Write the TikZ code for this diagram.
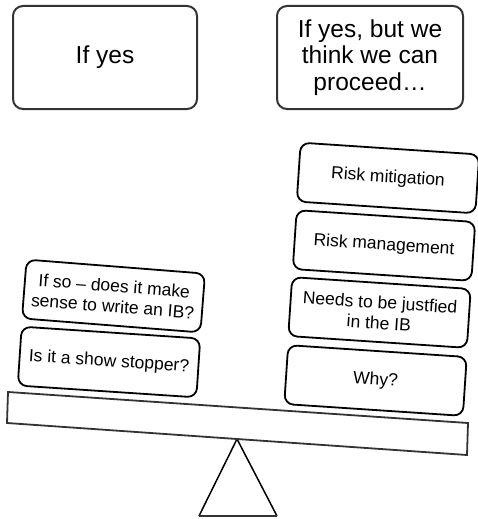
\documentclass[tikz,border=0pt]{standalone}
\usepackage{fontspec}
\setmainfont{Liberation Sans}
\begin{document}
\begin{tikzpicture}[x=1pt,y=-1pt,
  headbox/.style={draw=black!80, line width=2pt, rounded corners=10pt,
    minimum width=184pt, minimum height=103pt, align=center,
    font=\fontsize{24.5}{26.5}\selectfont, inner sep=0pt},
  weight/.style={draw=black, line width=1.8pt, rounded corners=9pt,
    minimum width=179pt, minimum height=59pt, align=center, fill=white,
    font=\fontsize{17.5}{20.5}\selectfont, inner sep=0pt, rotate=-3.8},
  beam/.style={draw=black!80, line width=1.8pt, fill=white},
  pivot/.style={draw=black, line width=1.5pt, line join=miter}]
\useasboundingbox (0,0) rectangle (477,519);

% headings
\node[headbox] (yes) at (105,57.5) {If yes};
\node[headbox, minimum width=186pt] (proceed) at (370,57.5) {If yes, but we\\think we can\\proceed\ldots};

% the fulcrum under the beam
\coordinate (apex) at (237,439);
\coordinate (baseL) at (199,516);
\coordinate (baseR) at (277,516);
\draw[pivot] (baseL) -- (apex) -- (baseR);
\draw[draw=black!80, line width=1.8pt] (baseL) -- (baseR);

% the tilted beam
\coordinate (bTL) at (8,392);
\coordinate (bTR) at (468,423);
\coordinate (bBR) at (467,455);
\coordinate (bBL) at (7,423);
\draw[beam] (bTL) -- (bTR) -- (bBR) -- (bBL) -- cycle;

% left-hand pile
\node[weight, rotate=-0.7] (ib) at (113.5,296) {If so -- does it make\\sense to write an IB?};
\node[weight] (stopper) at (109,362) {Is it a show stopper?};

% right-hand pile
\node[weight] (mitigation) at (388,178) {Risk mitigation};
\node[weight] (management) at (384,245.5) {Risk management};
\node[weight] (justified) at (379.5,312.5) {Needs to be justfied\\in the IB};
\node[weight] (why) at (375.5,380.5) {Why?};
\end{tikzpicture}
\end{document}
